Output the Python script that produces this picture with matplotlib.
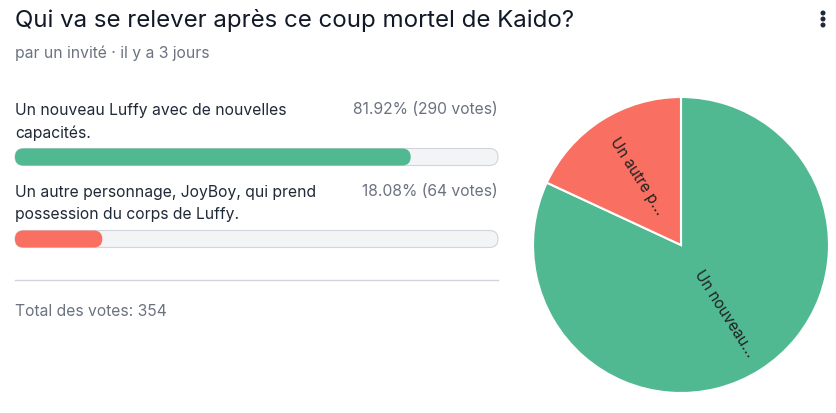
import numpy as np
import matplotlib.pyplot as plt
from matplotlib.patches import FancyBboxPatch, Circle

plt.rcParams['font.family'] = ['Inter', 'DejaVu Sans']

title = "Qui va se relever après ce coup mortel de Kaido?"
subtitle = "par un invité · il y a 3 jours"
options = [["Un nouveau Luffy avec de nouvelles", "capacités."],
           ["Un autre personnage, JoyBoy, qui prend", "possession du corps de Luffy."]]
short_labels = ["Un nouveau...", "Un autre p..."]
votes = [290, 64]
colors = ["#51b992", "#f97062"]
total = sum(votes)

W, H = 837, 413
fig = plt.figure(figsize=(W / 100, H / 100), dpi=100)
ax = fig.add_axes([0, 0, 1, 1])
ax.set_xlim(0, W)
ax.set_ylim(H, 0)
ax.axis("off")

# header
ax.text(15, 21, title, fontsize=17.3, color="#111827", va="center", ha="left")
ax.text(15, 53.5, subtitle, fontsize=11.3, color="#6b7280", va="center", ha="left")
for dy in (13, 19, 25):
    ax.add_patch(Circle((823, dy), 1.8, color="#1f2937"))

# options with bars
x0, x1 = 15, 498
bar_w = x1 - x0
bar_h = 17
text_y = [110, 192]
bar_y = [148.5, 230.5]
for i, lines in enumerate(options):
    pct = votes[i] / total * 100
    for k, line in enumerate(lines):
        ax.text(x0, text_y[i] + 23 * k, line, fontsize=11.3, color="#1f2937",
                va="center", ha="left")
    ax.text(x1, text_y[i], f"{pct:.2f}% ({votes[i]} votes)", fontsize=11.3,
            color="#6b7280", va="center", ha="right")
    ax.add_patch(FancyBboxPatch((x0, bar_y[i]), bar_w, bar_h,
                                boxstyle=f"round,pad=0,rounding_size={bar_h/2}",
                                fc="#f3f4f6", ec="#d1d5db", lw=0.8))
    ax.add_patch(FancyBboxPatch((x0, bar_y[i]), bar_w * pct / 100, bar_h,
                                boxstyle=f"round,pad=0,rounding_size={bar_h/2}",
                                fc=colors[i], ec="none"))

ax.plot([x0, x1], [280, 280], color="#d1d5db", lw=1)
ax.text(x0, 311, f"Total des votes: {total}", fontsize=11.3, color="#6b7280",
        va="center", ha="left")

# pie
cx, cy, r = 681, 245, 148
pax = fig.add_axes([(cx - r) / W, (H - cy - r) / H, 2 * r / W, 2 * r / H])
wedges, _ = pax.pie(votes, colors=colors, startangle=90, counterclock=False,
                    wedgeprops=dict(edgecolor="white", linewidth=1.5))
pax.set_xlim(-1, 1)
pax.set_ylim(-1, 1)
pax.set_aspect("equal")
for w, lab in zip(wedges, short_labels):
    ang = (w.theta1 + w.theta2) / 2
    mid = np.deg2rad(ang)
    rot = ang
    while rot > 90:
        rot -= 180
    while rot < -90:
        rot += 180
    rx, ry = 0.55 * np.cos(mid), 0.55 * np.sin(mid)
    pax.text(rx, ry, lab, rotation=rot, rotation_mode="anchor",
             ha="center", va="center", fontsize=11, color="#222222")

fig.savefig("out.png", dpi=100)
